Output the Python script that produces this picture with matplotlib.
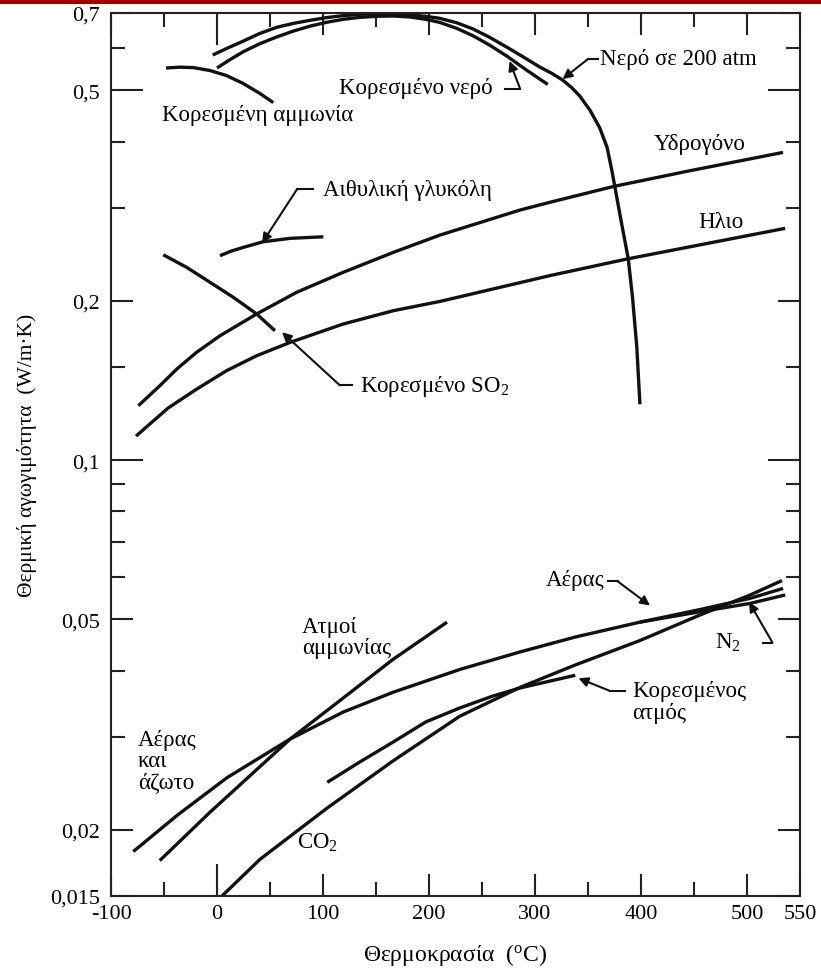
import numpy as np
import matplotlib
matplotlib.use('Agg')
import matplotlib.pyplot as plt
from matplotlib.patches import Rectangle
from matplotlib.ticker import NullFormatter

plt.rcParams['font.family'] = ['Liberation Serif', 'DejaVu Serif']
plt.rcParams['mathtext.fontset'] = 'custom'
plt.rcParams['mathtext.rm'] = 'Liberation Serif'
plt.rcParams['mathtext.it'] = 'Liberation Serif:italic'

# ---------------- data (T in °C, k in W/m·K) ----------------
sat_nh3_T = [-48.1, -35, -22.4, -6.6, 9.1, 24.8, 40.6, 53.1]
sat_nh3_k = [0.551, 0.553, 0.552, 0.545, 0.533, 0.515, 0.493, 0.474]

sat_water_T = [0, 12, 24.5, 40, 56.6, 72, 87.7, 103, 119, 135, 151, 166, 182, 197, 210,
               226, 241.5, 257, 273.6, 292, 312]
sat_water_k = [0.551, 0.571, 0.591, 0.612, 0.631, 0.647, 0.661, 0.672, 0.681, 0.687, 0.690,
               0.691, 0.688, 0.681, 0.672, 0.655, 0.634, 0.609, 0.580, 0.546, 0.513]

water200_T = [-4, 10, 24.5, 40, 56.6, 72, 87.7, 103, 119, 135, 151, 166, 182, 197, 210,
              226, 241.5, 257, 273.6, 289, 304.7, 316, 326, 335, 342.5, 352, 361, 368,
              372.6, 377, 382, 388, 392, 396, 399]
water200_k = [0.583, 0.601, 0.619, 0.640, 0.658, 0.669, 0.678, 0.686, 0.692, 0.696, 0.697,
              0.697, 0.694, 0.690, 0.684, 0.671, 0.653, 0.630, 0.603, 0.578, 0.553, 0.538,
              0.523, 0.505, 0.487, 0.458, 0.425, 0.390, 0.352, 0.315, 0.278, 0.240, 0.203,
              0.164, 0.1275]

hydrogen_T = [-74.2, -53.8, -38, -19.2, 2.8, 37.4, 75.2, 119.2, 166.4, 210.4, 286, 314, 374, 446, 534]
hydrogen_k = [0.1267, 0.1383, 0.1486, 0.1599, 0.1718, 0.1889, 0.2076, 0.2265, 0.2470,
              0.2663, 0.2970, 0.3071, 0.3290, 0.3523, 0.3816]

helium_T = [-76.4, -46, -19.2, 9.1, 37.4, 68.9, 119, 166.4, 210.4, 314, 387, 536]
helium_k = [0.111, 0.1255, 0.1362, 0.1476, 0.1575, 0.1669, 0.1808, 0.1916, 0.1995, 0.2232,
            0.2400, 0.2742]

glycol_T = [2.8, 13, 24.8, 43.7, 68.9, 100.3]
glycol_k = [0.2434, 0.2482, 0.2524, 0.2587, 0.2625, 0.2643]

sat_so2_T = [-50.7, -28.6, -6.6, 15.4, 37.4, 54.7]
sat_so2_k = [0.2444, 0.2314, 0.2168, 0.2031, 0.1889, 0.1756]

air_T = [-79, -37.7, 9.4, 69, 119, 166, 229, 286, 338, 399, 456, 503, 534]
air_k = [0.0182, 0.0213, 0.0251, 0.0297, 0.0334, 0.0364, 0.0402, 0.0434, 0.0463,
         0.0494, 0.0522, 0.0548, 0.0572]

n2_T = [399, 456, 503, 536]
n2_k = [0.0494, 0.0517, 0.0536, 0.0556]

nh3_vap_T = [-54, -6.6, 69, 119, 166, 217]
nh3_vap_k = [0.0175, 0.0216, 0.0297, 0.0355, 0.0420, 0.0494]

co2_T = [4.7, 40.6, 104, 166, 229, 286, 338, 399, 456, 503, 533]
co2_k = [0.015, 0.0176, 0.0220, 0.0270, 0.0328, 0.0372, 0.0410, 0.0456, 0.0510, 0.0556, 0.0592]

steam_T = [104, 135, 166, 197, 229, 260, 286, 338]
steam_k = [0.0246, 0.0269, 0.0293, 0.0320, 0.0340, 0.0358, 0.0371, 0.0392]

x_major = [-100, 0, 100, 200, 300, 400, 500, 550]
x_major_labels = ['-100', '0', '100', '200', '300', '400', '500', '550']
x_minor = [-50, 50, 150, 250, 350, 450]
y_major = [0.015, 0.02, 0.05, 0.1, 0.2, 0.5, 0.7]
y_major_labels = ['0,015', '0,02', '0,05', '0,1', '0,2', '0,5', '0,7']
y_minor = [0.03, 0.04, 0.06, 0.07, 0.08, 0.09, 0.15, 0.3, 0.4, 0.6]

# ---------------- figure ----------------
fig = plt.figure(figsize=(8.21, 9.78), dpi=100)
fig.add_artist(Rectangle((0, 1 - 5 / 978), 1, 5 / 978, transform=fig.transFigure,
                         facecolor='#9b0000', edgecolor='none'))
ax = fig.add_axes([111 / 821, 1 - 897 / 978, 689 / 821, 883 / 978])
ax.set_yscale('log')
ax.set_xlim(-100, 550)
ax.set_ylim(0.015, 0.7)

LW = 2.4
C = '#111111'
for T, k in [(sat_nh3_T, sat_nh3_k), (sat_water_T, sat_water_k), (water200_T, water200_k),
             (hydrogen_T, hydrogen_k), (helium_T, helium_k), (glycol_T, glycol_k),
             (sat_so2_T, sat_so2_k), (air_T, air_k), (n2_T, n2_k), (nh3_vap_T, nh3_vap_k),
             (co2_T, co2_k), (steam_T, steam_k)]:
    ax.plot(T, k, color=C, lw=LW, solid_capstyle='butt', solid_joinstyle='round')

# ticks
ax.set_xticks(x_major, x_major_labels)
ax.set_xticks(x_minor, minor=True)
ax.set_yticks(y_major, y_major_labels)
ax.set_yticks(y_minor, minor=True)
ax.yaxis.set_minor_formatter(NullFormatter())
ax.tick_params(which='both', direction='in', top=True, right=True, width=1.5,
               color='#222222', labelsize=16)
ax.tick_params(which='major', length=16)
ax.tick_params(which='minor', length=10)
ax.tick_params(axis='y', pad=8)
ax.tick_params(axis='x', pad=6)
for s in ax.spines.values():
    s.set_linewidth(1.5)
    s.set_color('#222222')

for t, v in zip(ax.xaxis.get_major_ticks(), x_major):
    if v == 0:
        t.tick1line.set_markersize(23)
        t.tick2line.set_markersize(23)
for t, v in zip(ax.yaxis.get_major_ticks(), y_major):
    if v in (0.1, 0.5):
        t.tick1line.set_markersize(23)
        t.tick2line.set_markersize(23)

ax.set_xlabel('Θερμοκρασία  ($^{\\rm o}$C)', fontsize=17, va='center')
ax.xaxis.set_label_coords(0.5, (897 - 955) / 883)
ax.set_ylabel('Θερμική αγωγιμότητα  (W/m·K)', fontsize=15.5, va='center')
ax.yaxis.set_label_coords((27 - 111) / 689, 0.5)

# ---------------- annotations ----------------
FS = 16.5
def leader(tail, tip, tail_end):
    ax.plot([tail[0], tail_end], [tail[1], tail[1]], color=C, lw=1.5)
    ax.annotate('', xy=tip, xytext=tail,
                arrowprops=dict(arrowstyle='-|>', color=C, lw=1.5, mutation_scale=14,
                                shrinkA=0, shrinkB=0))

ax.text(38.7, 0.450, 'Κορεσμένη αμμωνία', fontsize=FS, ha='center', va='center')
ax.text(260, 0.507, 'Κορεσμένο νερό', fontsize=FS, ha='right', va='center')
leader((286, 0.503), (276, 0.568), 272)
ax.text(361, 0.573, 'Νερό σε 200 atm', fontsize=FS, ha='left', va='center')
leader((350, 0.573), (326, 0.525), 359)
ax.text(455.7, 0.396, 'Υδρογόνο', fontsize=FS, ha='center', va='center')
ax.text(475.5, 0.282, 'Ηλιο', fontsize=FS, ha='center', va='center')
ax.text(100, 0.325, 'Αιθυλική γλυκόλη', fontsize=FS, ha='left', va='center')
leader((75.5, 0.325), (42.5, 0.2573), 90.6)
ax.text(135, 0.1384, 'Κορεσμένο SO$_2$', fontsize=FS, ha='left', va='center')
leader((116, 0.1384), (61.3, 0.1745), 127)
ax.text(80, 0.0463, 'Ατμοί\nαμμωνίας', fontsize=FS, ha='left', va='center', linespacing=1.0)
ax.text(-74.5, 0.0270, 'Αέρας\nκαι\nάζωτο', fontsize=FS, ha='left', va='center', linespacing=1.05)
ax.text(95, 0.0190, 'CO$_2$', fontsize=FS, ha='center', va='center')
ax.text(366, 0.0596, 'Αέρας', fontsize=FS, ha='right', va='center')
leader((378, 0.0590), (408.5, 0.0531), 369)
ax.text(482, 0.0454, 'N$_2$', fontsize=FS, ha='center', va='center')
leader((524, 0.0452), (502, 0.0539), 515)
ax.text(391.5, 0.0350, 'Κορεσμένος\nατμός', fontsize=FS, ha='left', va='center', linespacing=1.1)
leader((371, 0.0366), (341, 0.0387), 385)

fig.savefig('out.png', dpi=100)
